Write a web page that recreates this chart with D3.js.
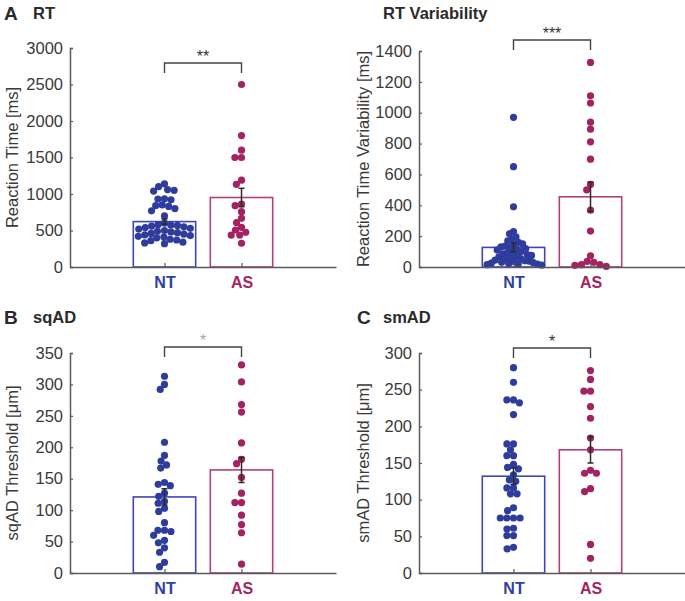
<!DOCTYPE html>
<html>
<head>
<meta charset="utf-8">
<script src="https://cdn.jsdelivr.net/npm/d3@7"></script>
<style>
  html, body { margin: 0; padding: 0; background: #fff; }
  svg { display: block; font-family: "Liberation Sans", Arial, Helvetica, sans-serif; }
</style>
</head>
<body>
<svg id="chart" width="685" height="601"></svg>
<script>
// ---------- data ----------
const groups = ["NT", "AS"];

const rtNT = [1140, 1100, 1060, 1040, 1050, 930, 920, 935, 850, 840, 830, 800, 770, 700,
  600, 580, 575, 570, 560, 550, 540, 530, 520, 500, 490, 480, 470, 460, 450, 440,
  430, 420, 410, 400, 380, 370, 360, 340, 330, 320];
const rtAS = [2500, 1800, 1600, 1500, 1500, 1190, 1133, 863, 840, 758, 667, 607, 544, 507, 475, 438, 438, 325];
const rtMean = [622, 952];
const rtSem = [36, 126];

const rtvNT = [970, 650, 390, 230, 215, 195, 180, 170, 160, 150, 140, 135, 130, 125, 120, 115,
  110, 100, 95, 90, 85, 80, 75, 70, 65, 60, 55, 50, 45, 40, 38, 35, 30, 28, 25, 22, 20, 18, 15, 12];
const rtvAS = [1326, 1110, 1063, 939, 893, 811, 699, 535, 500, 368, 233, 73, 36, 30, 15, 15, 11, 4];
const rtvMean = [127, 455];
const rtvSem = [28, 95];

const sqNT = [313, 300, 292, 208, 187, 178, 172, 167, 141, 139, 144, 127, 122, 111, 114, 103,
  98, 80, 68, 68, 66, 60, 52, 48, 40, 33, 17, 10];
const sqAS = [331, 304, 268, 256, 207, 181, 174, 152, 127, 112, 112, 92, 77, 64, 14];
const sqMean = [121, 164];
const sqSem = [13, 20];

const smNT = [280, 260, 236, 236, 232, 216, 176, 176, 168, 160, 160, 148, 144, 142, 134, 127,
  125, 116, 116, 108, 108, 89, 85, 75, 75, 75, 75, 61, 60, 51, 51, 35, 33];
const smAS = [276, 264, 248, 248, 227, 211, 184, 168, 140, 136, 136, 115, 111, 39, 20];
const smMean = [132, 168];
const smSem = [11, 18];

const rtTicks = [0, 500, 1000, 1500, 2000, 2500, 3000];
const rtvTicks = [0, 200, 400, 600, 800, 1000, 1200, 1400];
const sqTicks = [0, 50, 100, 150, 200, 250, 300, 350];
const smTicks = [0, 50, 100, 150, 200, 250, 300];

const panelLetters = ["A", "", "B", "C"];
const panelTitles = ["RT", "RT Variability", "sqAD", "smAD"];
const yTitles = ["Reaction Time [ms]", "Reaction Time Variability [ms]", "sqAD Threshold [\u03bcm]", "smAD Threshold [\u03bcm]"];
const sigLabels = ["**", "***", "*", "*"];

// ---------- styles ----------
const dotColor = { NT: "#2e3d9d", AS: "#a3225f" };
const barColor = { NT: "#3f45b5", AS: "#b1407b" };
const labelColor = { NT: "#2f3f9f", AS: "#a4245f" };
const sigColor = ["#333", "#333", "#a8a8a8", "#333"];
const axisColor = "#5a5a5a";
const textColor = "#3a3a3a";

const panels = [
  { left: 70, right: 336, top: 48, bottom: 267, max: 3000, ticks: rtTicks, NT: rtNT, AS: rtAS, mean: rtMean, sem: rtSem,
    letterX: 4, titleX: 33, titleY: 19, yTitleX: 13, brY: 63 },
  { left: 419, right: 685, top: 51, bottom: 267, max: 1400, ticks: rtvTicks, NT: rtvNT, AS: rtvAS, mean: rtvMean, sem: rtvSem,
    letterX: 357, titleX: 383, titleY: 19, yTitleX: 364, brY: 40 },
  { left: 70, right: 336, top: 353, bottom: 573, max: 350, ticks: sqTicks, NT: sqNT, AS: sqAS, mean: sqMean, sem: sqSem,
    letterX: 4, titleX: 33, titleY: 323, yTitleX: 13, brY: 347 },
  { left: 419, right: 685, top: 353, bottom: 573, max: 300, ticks: smTicks, NT: smNT, AS: smAS, mean: smMean, sem: smSem,
    letterX: 357, titleX: 383, titleY: 323, yTitleX: 364, brY: 348 }
];

const svg = d3.select("#chart");
const R = 3.6;

// deterministic beeswarm offsets
function swarm(values, y, minDist, limit) {
  const idx = values.map((v, i) => i).sort((a, b) => values[b] - values[a]);
  const placed = [];
  const out = new Array(values.length);
  idx.forEach(i => {
    const py = y(values[i]);
    const forb = [];
    placed.forEach(p => {
      const dy = Math.abs(p.y - py);
      if (dy < minDist) {
        const w = Math.sqrt(minDist * minDist - dy * dy);
        forb.push([p.x - w, p.x + w]);
      }
    });
    const cands = [0];
    forb.forEach(f => { cands.push(f[0], f[1]); });
    cands.sort((a, b) => Math.abs(a) - Math.abs(b) || a - b);
    let best = 0;
    for (const c of cands) {
      if (forb.every(f => c <= f[0] + 1e-6 || c >= f[1] - 1e-6)) { best = c; break; }
    }
    placed.push({ x: best, y: py });
    out[i] = best;
  });
  const m = d3.max(out, Math.abs);
  if (m > limit) return out.map(o => o * limit / m);
  return out;
}

panels.forEach((p, k) => {
  const g = svg.append("g");
  const x = d3.scalePoint().domain(groups).range([p.left, p.right]).padding(1.227);
  const y = d3.scaleLinear().domain([0, p.max]).range([p.bottom, p.top]);
  const step = x.step();
  const bw = step * 0.81;

  // bars
  groups.forEach((gName, gi) => {
    g.append("rect")
      .attr("x", x(gName) - bw / 2)
      .attr("y", y(p.mean[gi]))
      .attr("width", bw)
      .attr("height", y(0) - y(p.mean[gi]))
      .attr("fill", "#fff")
      .attr("stroke", barColor[gName])
      .attr("stroke-width", 1.6);
  });

  // dots
  groups.forEach(gName => {
    const vals = p[gName];
    const offs = swarm(vals, y, 6.6, bw / 2 - 3);
    g.append("g").selectAll("circle").data(vals).join("circle")
      .attr("cx", (d, i) => x(gName) + offs[i])
      .attr("cy", d => y(d))
      .attr("r", R)
      .attr("fill", dotColor[gName]);
  });

  // error bars
  groups.forEach((gName, gi) => {
    const cx = x(gName);
    const lo = y(p.mean[gi] - p.sem[gi]);
    const hi = y(p.mean[gi] + p.sem[gi]);
    const eb = g.append("g").attr("stroke", "#2a2a2a").attr("stroke-width", 1.5);
    eb.append("line").attr("x1", cx).attr("x2", cx).attr("y1", lo).attr("y2", hi);
    eb.append("line").attr("x1", cx - 3).attr("x2", cx + 3).attr("y1", lo).attr("y2", lo);
    eb.append("line").attr("x1", cx - 3).attr("x2", cx + 3).attr("y1", hi).attr("y2", hi);
  });

  // y axis
  const yAxis = d3.axisLeft(y).tickValues(p.ticks).tickSize(-3).tickPadding(7).tickFormat(d3.format("d"));
  const ya = g.append("g").attr("transform", `translate(${p.left},0)`).call(yAxis);
  ya.select(".domain").attr("stroke", axisColor).attr("stroke-width", 1.5);
  ya.selectAll(".tick line").attr("stroke", axisColor).attr("stroke-width", 1.2);
  ya.selectAll(".tick text").attr("fill", textColor).attr("font-size", 16.5)
    .attr("font-family", "'Liberation Sans', Arial, sans-serif");

  // x axis
  const xAxis = d3.axisBottom(x).tickSize(-4).tickSizeOuter(0).tickPadding(10);
  const xa = g.append("g").attr("transform", `translate(0,${p.bottom})`).call(xAxis);
  xa.select(".domain").attr("stroke", axisColor).attr("stroke-width", 1.5);
  xa.selectAll(".tick line").attr("stroke", axisColor).attr("stroke-width", 1.2);
  xa.selectAll(".tick text")
    .attr("fill", d => labelColor[d])
    .attr("font-size", 16).attr("font-weight", "bold")
    .attr("font-family", "'Liberation Sans', Arial, sans-serif");

  // y title
  g.append("text")
    .attr("transform", `translate(${p.yTitleX + 5},${(p.top + p.bottom) / 2}) rotate(-90)`)
    .attr("text-anchor", "middle")
    .attr("fill", textColor).attr("font-size", 16.5)
    .text(yTitles[k]);

  // panel letter and title
  if (panelLetters[k]) {
    g.append("text").attr("x", p.letterX).attr("y", p.titleY + 1)
      .attr("font-size", 19).attr("font-weight", "bold").attr("fill", "#2a2a2a")
      .text(panelLetters[k]);
  }
  g.append("text").attr("x", p.titleX).attr("y", p.titleY)
    .attr("font-size", 16.5).attr("font-weight", "bold").attr("fill", "#2a2a2a")
    .text(panelTitles[k]);

  // significance bracket
  const x1 = x("NT"), x2 = x("AS");
  g.append("path")
    .attr("d", `M${x1},${p.brY + 10}V${p.brY}H${x2}V${p.brY + 10}`)
    .attr("fill", "none").attr("stroke", "#444").attr("stroke-width", 1.4);
  g.append("text")
    .attr("x", (x1 + x2) / 2).attr("y", p.brY - 1)
    .attr("text-anchor", "middle")
    .attr("font-size", 16).attr("fill", sigColor[k])
    .text(sigLabels[k]);
});
</script>
</body>
</html>
